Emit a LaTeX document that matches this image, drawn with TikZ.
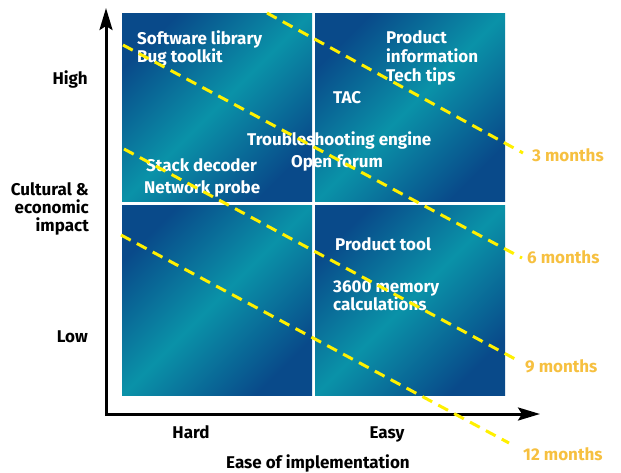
\documentclass[tikz,border=0pt]{standalone}
\usepackage{fontspec}
\setmainfont{Fira Sans}
\usetikzlibrary{arrows.meta}
\definecolor{qdark}{RGB}{9,74,138}
\definecolor{qteal}{RGB}{10,146,168}
\definecolor{dashyellow}{RGB}{255,240,0}
\definecolor{monthgold}{RGB}{246,192,64}
\tikzset{
  quad/.style={top color=qdark, bottom color=qdark, middle color=qteal, shading angle=45, draw=none},
  wlab/.style={text=white, font=\bfseries\fontsize{17}{18}\selectfont, inner sep=0pt, anchor=base west},
  blab/.style={text=black, font=\bfseries\fontsize{17}{18}\selectfont, inner sep=0pt},
  mlab/.style={text=monthgold, font=\bfseries\fontsize{17}{18}\selectfont, inner sep=0pt, anchor=base west},
  timeline/.style={draw=dashyellow, line width=3pt, dash pattern=on 11pt off 7pt},
  axisline/.style={draw=black, line width=3pt, {Stealth[length=22pt,width=13pt,inset=4pt]}-{Stealth[length=22pt,width=13pt,inset=4pt]}}
}
\begin{document}
\begin{tikzpicture}[x=1pt,y=-1pt]
\useasboundingbox (0,0) rectangle (621,472);
% quadrants
\shade[quad] (122,13) rectangle (312,201);
\shade[quad] (315,13) rectangle (505,201);
\shade[quad] (122,205) rectangle (312,395);
\shade[quad] (315,205) rectangle (505,395);
% axes
\coordinate (ytip) at (106,8);
\coordinate (orig) at (106,414);
\coordinate (xtip) at (540,414);
\draw[axisline] (ytip) -- (orig) -- (xtip);
% quadrant texts
\node[wlab] (swlib) at (137,44) {Software library};
\node[wlab] (bugtk) at (137,62) {Bug toolkit};
\node[wlab] (stack) at (146,171) {Stack decoder};
\node[wlab] (netpr) at (144,193) {Network probe};
\node[wlab] (trouble) at (247,145) {Troubleshooting engine};
\node[wlab] (openf) at (291,167) {Open forum};
\node[wlab] (tac) at (333,103) {TAC};
\node[wlab] (prod) at (386,43) {Product};
\node[wlab] (info) at (386,62) {information};
\node[wlab] (tech) at (386,81) {Tech tips};
\node[wlab] (ptool) at (335,250) {Product tool};
\node[wlab] (mem1) at (333,292) {3600 memory};
\node[wlab] (mem2) at (333,310) {calculations};
% time lines
\coordinate (a1) at (267,13);  \coordinate (b1) at (523,153);
\coordinate (a2) at (123,45);  \coordinate (b2) at (522,258);
\coordinate (a3) at (124,149); \coordinate (b3) at (517,360);
\coordinate (a4) at (121,235); \coordinate (b4) at (509,443);
\draw[timeline] (a1) -- (b1);
\draw[timeline] (a2) -- (b2);
\draw[timeline] (a3) -- (b3);
\draw[timeline] (a4) -- (b4);
\node[mlab] (m3) at (532,161) {3 months};
\node[mlab] (m6) at (527,263) {6 months};
\node[mlab] (m9) at (525,372) {9 months};
\node[mlab] (m12) at (523,460) {12 months};
% axis labels
\node[blab, anchor=base east] (high) at (88,84) {High};
\node[blab, anchor=base east] (cult) at (89,195) {Cultural \&};
\node[blab, anchor=base east] (econ) at (89,213) {economic};
\node[blab, anchor=base east] (imp) at (89,231) {impact};
\node[blab, anchor=base east] (low) at (88,342) {Low};
\node[blab, anchor=base] (hard) at (191,438) {Hard};
\node[blab, anchor=base] (easy) at (387,438) {Easy};
\node[blab, anchor=base] (ease) at (318,468) {Ease of implementation};
\end{tikzpicture}
\end{document}
